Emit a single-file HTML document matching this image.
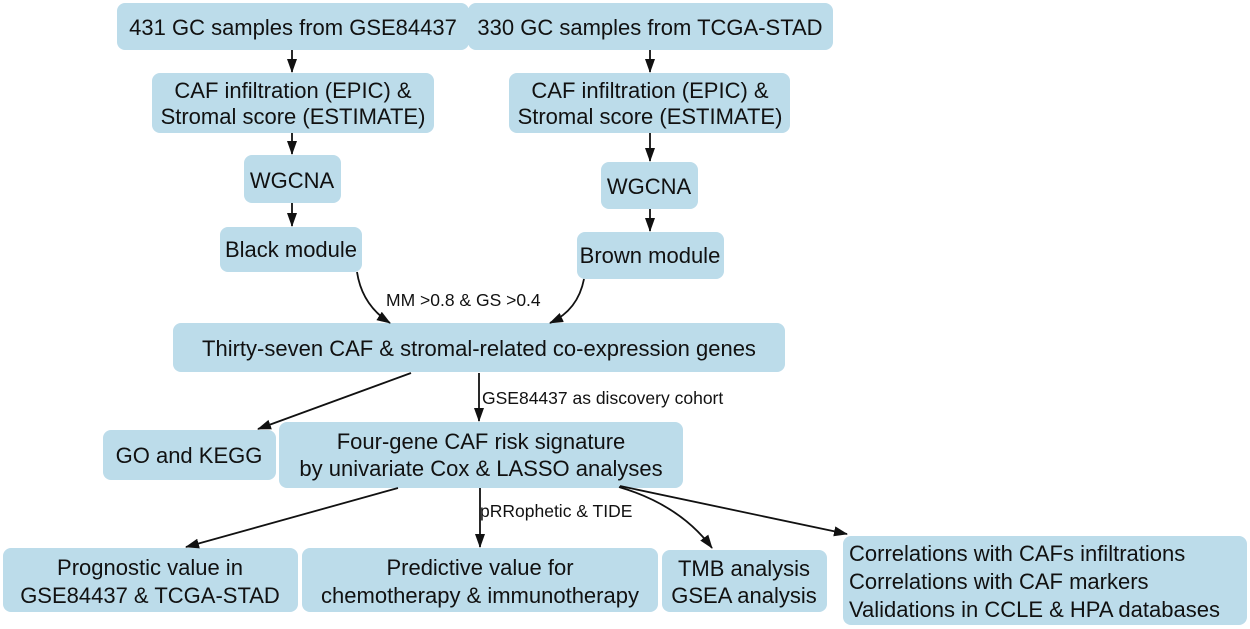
<!DOCTYPE html>
<html><head><meta charset="utf-8"><style>
html,body{margin:0;padding:0;background:#fff;}
svg{display:block;}
text{font-family:"Liberation Sans",Arial,sans-serif;fill:#111;}
.b{fill:#bcdcea;}
.t{font-size:22px;text-anchor:middle;}
.c{font-size:22px;}
.l{font-size:17.5px;}
.a{stroke:#111;stroke-width:1.8;fill:none;marker-end:url(#ah);}
</style></head><body>
<svg width="1250" height="629" viewBox="0 0 1250 629">
<defs><marker id="ah" markerWidth="14" markerHeight="12" refX="13" refY="6" orient="auto" markerUnits="userSpaceOnUse"><path d="M0,1 L14,6 L0,11 z" fill="#111"/></marker></defs>

<rect class="b" x="117" y="3" width="352" height="47" rx="8"/>
<text class="t" x="293" y="35">431 GC samples from GSE84437</text>
<rect class="b" x="468" y="3" width="365" height="47" rx="8"/>
<text class="t" x="650" y="35">330 GC samples from TCGA-STAD</text>

<rect class="b" x="152" y="73" width="282" height="60" rx="8"/>
<text class="t" x="293" y="98">CAF infiltration (EPIC) &amp;</text>
<text class="t" x="293" y="124">Stromal score (ESTIMATE)</text>
<rect class="b" x="509" y="73" width="281" height="60" rx="8"/>
<text class="t" x="650" y="98">CAF infiltration (EPIC) &amp;</text>
<text class="t" x="650" y="124">Stromal score (ESTIMATE)</text>

<rect class="b" x="244" y="155" width="97" height="48" rx="8"/>
<text class="t" x="292" y="188">WGCNA</text>
<rect class="b" x="601" y="162" width="97" height="47" rx="8"/>
<text class="t" x="649" y="194">WGCNA</text>

<rect class="b" x="220" y="227" width="142" height="45" rx="8"/>
<text class="t" x="291" y="257">Black module</text>
<rect class="b" x="577" y="232" width="147" height="47" rx="8"/>
<text class="t" x="650" y="263">Brown module</text>

<rect class="b" x="173" y="323" width="612" height="49" rx="8"/>
<text class="t" x="479" y="356">Thirty-seven CAF &amp; stromal-related co-expression genes</text>

<rect class="b" x="103" y="430" width="173" height="50" rx="8"/>
<text class="t" x="189" y="463">GO and KEGG</text>
<rect class="b" x="279" y="422" width="404" height="66" rx="8"/>
<text class="t" x="481" y="449">Four-gene CAF risk signature</text>
<text class="t" x="481" y="476">by univariate Cox &amp; LASSO analyses</text>

<rect class="b" x="3" y="548" width="295" height="64" rx="8"/>
<text class="t" x="150" y="575">Prognostic value in</text>
<text class="t" x="150" y="603">GSE84437 &amp; TCGA-STAD</text>
<rect class="b" x="302" y="548" width="356" height="64" rx="8"/>
<text class="t" x="480" y="575">Predictive value for</text>
<text class="t" x="480" y="603">chemotherapy &amp; immunotherapy</text>
<rect class="b" x="662" y="550" width="165" height="62" rx="8"/>
<text class="t" x="744" y="576">TMB analysis</text>
<text class="t" x="744" y="603">GSEA analysis</text>
<rect class="b" x="843" y="536" width="404" height="89" rx="8"/>
<text class="c" x="849" y="561">Correlations with CAFs infiltrations</text>
<text class="c" x="849" y="589">Correlations with CAF markers</text>
<text class="c" x="849" y="617">Validations in CCLE &amp; HPA databases</text>

<path class="a" d="M292,50 L292,72"/>
<path class="a" d="M650,50 L650,72"/>
<path class="a" d="M292,133 L292,154"/>
<path class="a" d="M650,133 L650,161"/>
<path class="a" d="M292,203 L292,226"/>
<path class="a" d="M650,209 L650,231"/>
<path class="a" d="M357,272 Q362,305 390,323"/>
<path class="a" d="M584,279 Q578,310 550,323"/>
<text class="l" x="386" y="306">MM &gt;0.8 &amp; GS &gt;0.4</text>
<path class="a" d="M411,373 L258,429"/>
<path class="a" d="M479,373 L479,421"/>
<text class="l" x="482" y="404">GSE84437 as discovery cohort</text>
<path class="a" d="M398,488 L186,547"/>
<path class="a" d="M480,488 L480,547"/>
<text class="l" x="480" y="517">pRRophetic &amp; TIDE</text>
<path class="a" d="M619,487 Q680,505 712,548"/>
<path class="a" d="M620,486 L847,534"/>
</svg>
</body></html>
